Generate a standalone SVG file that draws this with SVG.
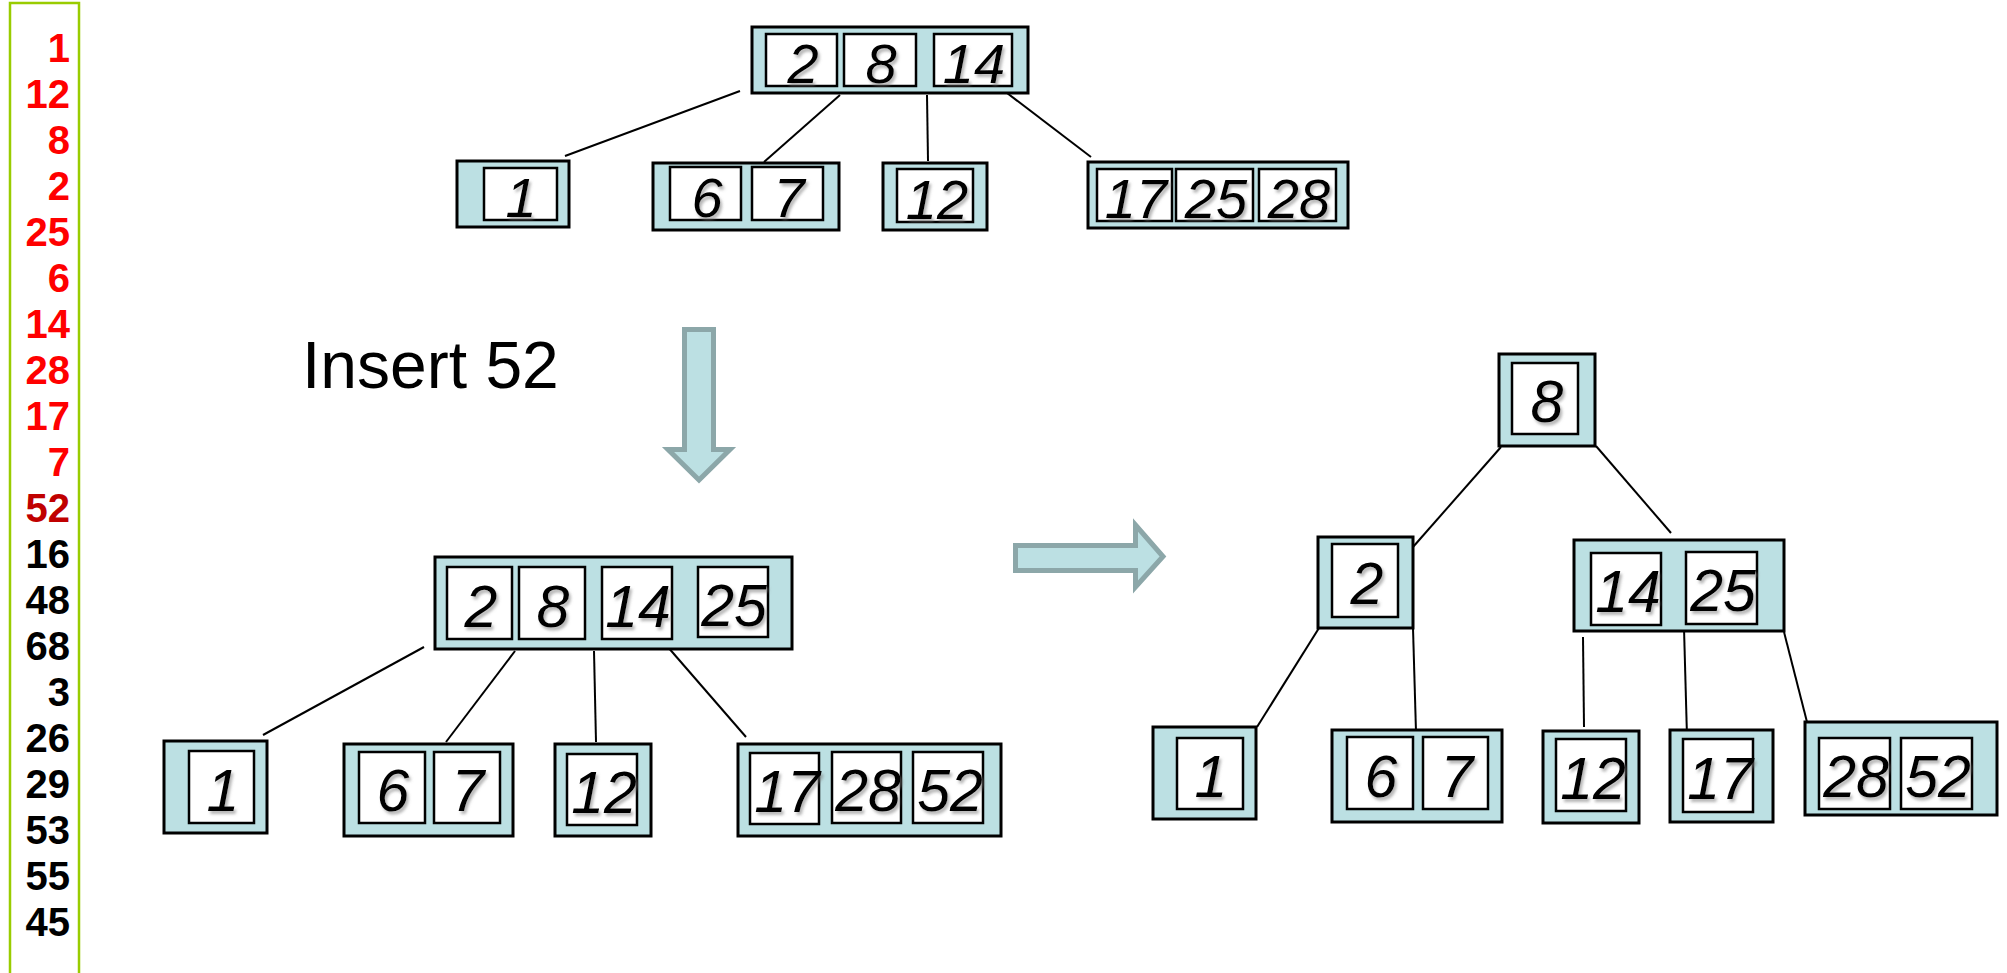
<svg xmlns="http://www.w3.org/2000/svg" width="2007" height="973" viewBox="0 0 2007 973">
<defs>
<filter id="sh" x="-20%" y="-20%" width="150%" height="150%">
<feDropShadow dx="2" dy="3" stdDeviation="1.5" flood-color="#777" flood-opacity="0.55"/>
</filter>
<style>
.o{fill:#bce0e3;stroke:#000;stroke-width:3}
.c{fill:#fff;stroke:#000;stroke-width:2.5}
.d{font-family:"Liberation Sans",Arial,sans-serif;font-style:italic;font-size:59px;fill:#000;text-anchor:middle;filter:url(#sh)}
.ds{font-size:56px}
.ln{stroke:#000;stroke-width:2;fill:none}
.seq{font-family:"Liberation Sans",Arial,sans-serif;font-weight:bold;font-size:40px;text-anchor:end}
.arr{fill:#bce0e3;stroke:#8ca7a9;stroke-width:5;stroke-linejoin:miter}
</style>
</defs>
<rect width="2007" height="973" fill="#fff"/>

<g id="sequence">
<rect x="10" y="3" width="69" height="990" fill="none" stroke="#99cc00" stroke-width="2.5"/>
<g class="seq">
<text x="70" y="62" fill="#ff0000">1</text>
<text x="70" y="108" fill="#ff0000">12</text>
<text x="70" y="154" fill="#ff0000">8</text>
<text x="70" y="200" fill="#ff0000">2</text>
<text x="70" y="246" fill="#ff0000">25</text>
<text x="70" y="292" fill="#ff0000">6</text>
<text x="70" y="338" fill="#ff0000">14</text>
<text x="70" y="384" fill="#ff0000">28</text>
<text x="70" y="430" fill="#ff0000">17</text>
<text x="70" y="476" fill="#ff0000">7</text>
<text x="70" y="522" fill="#c00000">52</text>
<text x="70" y="568" fill="#000">16</text>
<text x="70" y="614" fill="#000">48</text>
<text x="70" y="660" fill="#000">68</text>
<text x="70" y="706" fill="#000">3</text>
<text x="70" y="752" fill="#000">26</text>
<text x="70" y="798" fill="#000">29</text>
<text x="70" y="844" fill="#000">53</text>
<text x="70" y="890" fill="#000">55</text>
<text x="70" y="936" fill="#000">45</text>
</g>
</g>

<g id="label-insert">
<text x="302" y="388" font-family="'Liberation Sans',Arial,sans-serif" font-size="66" fill="#000">Insert 52</text>
</g>

<g id="arrow-down">
<polygon class="arr" points="684.5,329.5 713.5,329.5 713.5,449.5 730,449.5 699,480 668,449.5 684.5,449.5"/>
</g>
<g id="arrow-right">
<polygon class="arr" points="1015.5,545.5 1135.5,545.5 1135.5,525 1163,556.5 1135.5,587 1135.5,570.5 1015.5,570.5"/>
</g>

<g id="connectors">
<line class="ln" x1="740" y1="91" x2="565" y2="156"/>
<line class="ln" x1="840" y1="95" x2="764" y2="162"/>
<line class="ln" x1="927" y1="95" x2="928" y2="161"/>
<line class="ln" x1="1007" y1="93" x2="1091" y2="157"/>

<line class="ln" x1="424" y1="647" x2="263" y2="735"/>
<line class="ln" x1="515" y1="651" x2="446" y2="742"/>
<line class="ln" x1="594" y1="651" x2="596" y2="742"/>
<line class="ln" x1="667" y1="646" x2="746" y2="737"/>

<line class="ln" x1="1501" y1="447" x2="1413" y2="547"/>
<line class="ln" x1="1596" y1="446" x2="1671" y2="533"/>
<line class="ln" x1="1319" y1="628" x2="1257" y2="727"/>
<line class="ln" x1="1413" y1="628" x2="1416" y2="732"/>
<line class="ln" x1="1583" y1="637" x2="1584" y2="727"/>
<line class="ln" x1="1684" y1="628" x2="1687" y2="737"/>
<line class="ln" x1="1784" y1="632" x2="1807" y2="722"/>
</g>

<!-- Top tree -->
<g id="t-root">
<rect class="o" x="752" y="27" width="276" height="66"/>
<rect class="c" x="766" y="34" width="71" height="52"/>
<rect class="c" x="844" y="34" width="72" height="52"/>
<rect class="c" x="934" y="34" width="78" height="52"/>
<text class="d ds" x="803" y="83">2</text>
<text class="d ds" x="881" y="83">8</text>
<text class="d ds" x="974" y="83">14</text>
</g>
<g id="t-1">
<rect class="o" x="457" y="161" width="112" height="66"/>
<rect class="c" x="484" y="168" width="73" height="52"/>
<text class="d ds" x="521" y="217">1</text>
</g>
<g id="t-6-7">
<rect class="o" x="653" y="163" width="186" height="67"/>
<rect class="c" x="670" y="167" width="71" height="53"/>
<rect class="c" x="752" y="167" width="71" height="53"/>
<text class="d ds" x="707" y="217">6</text>
<text class="d ds" x="789" y="217">7</text>
</g>
<g id="t-12">
<rect class="o" x="883" y="163" width="104" height="67"/>
<rect class="c" x="897" y="169" width="76" height="53"/>
<text class="d ds" x="937" y="219">12</text>
</g>
<g id="t-17-25-28">
<rect class="o" x="1088" y="162" width="260" height="66"/>
<rect class="c" x="1097" y="169" width="75" height="52"/>
<rect class="c" x="1176" y="169" width="77" height="52"/>
<rect class="c" x="1259" y="169" width="77" height="52"/>
<text class="d ds" x="1136" y="218">17</text>
<text class="d ds" x="1216" y="218">25</text>
<text class="d ds" x="1299" y="218">28</text>
</g>

<!-- Middle tree -->
<g id="m-root">
<rect class="o" x="435" y="557" width="357" height="92"/>
<rect class="c" x="447" y="567" width="65" height="72"/>
<rect class="c" x="519" y="567" width="66" height="72"/>
<rect class="c" x="602" y="567" width="70" height="72"/>
<rect class="c" x="698" y="567" width="70" height="70"/>
<text class="d" x="481" y="627">2</text>
<text class="d" x="553" y="627">8</text>
<text class="d" x="638" y="627">14</text>
<text class="d" x="734" y="626">25</text>
</g>
<g id="m-1">
<rect class="o" x="164" y="741" width="103" height="92"/>
<rect class="c" x="189" y="751" width="65" height="72"/>
<text class="d" x="223" y="811">1</text>
</g>
<g id="m-6-7">
<rect class="o" x="344" y="744" width="169" height="92"/>
<rect class="c" x="359" y="752" width="66" height="71"/>
<rect class="c" x="434" y="752" width="66" height="71"/>
<text class="d" x="393" y="811">6</text>
<text class="d" x="468" y="811">7</text>
</g>
<g id="m-12">
<rect class="o" x="555" y="744" width="96" height="92"/>
<rect class="c" x="567" y="754" width="70" height="71"/>
<text class="d" x="604" y="813">12</text>
</g>
<g id="m-17-28-52">
<rect class="o" x="738" y="744" width="263" height="92"/>
<rect class="c" x="750" y="753" width="69" height="71"/>
<rect class="c" x="832" y="752" width="69" height="71"/>
<rect class="c" x="913" y="752" width="70" height="71"/>
<text class="d" x="787" y="812">17</text>
<text class="d" x="868" y="811">28</text>
<text class="d" x="950" y="811">52</text>
</g>

<!-- Right tree -->
<g id="r-8">
<rect class="o" x="1499" y="354" width="96" height="92"/>
<rect class="c" x="1512" y="363" width="66" height="71"/>
<text class="d" x="1547" y="422">8</text>
</g>
<g id="r-2">
<rect class="o" x="1318" y="537" width="95" height="91"/>
<rect class="c" x="1332" y="544" width="66" height="73"/>
<text class="d" x="1367" y="604">2</text>
</g>
<g id="r-14-25">
<rect class="o" x="1574" y="540" width="210" height="91"/>
<rect class="c" x="1591" y="553" width="70" height="72"/>
<rect class="c" x="1686" y="552" width="71" height="72"/>
<text class="d" x="1628" y="612">14</text>
<text class="d" x="1723" y="611">25</text>
</g>
<g id="r-1">
<rect class="o" x="1153" y="727" width="103" height="92"/>
<rect class="c" x="1177" y="738" width="66" height="71"/>
<text class="d" x="1211" y="797">1</text>
</g>
<g id="r-6-7">
<rect class="o" x="1332" y="730" width="170" height="92"/>
<rect class="c" x="1347" y="737" width="66" height="72"/>
<rect class="c" x="1423" y="737" width="65" height="72"/>
<text class="d" x="1381" y="797">6</text>
<text class="d" x="1457" y="797">7</text>
</g>
<g id="r-12">
<rect class="o" x="1543" y="731" width="96" height="92"/>
<rect class="c" x="1556" y="739" width="70" height="72"/>
<text class="d" x="1593" y="799">12</text>
</g>
<g id="r-17">
<rect class="o" x="1670" y="730" width="103" height="92"/>
<rect class="c" x="1683" y="739" width="70" height="73"/>
<text class="d" x="1720" y="799">17</text>
</g>
<g id="r-28-52">
<rect class="o" x="1805" y="722" width="192" height="93"/>
<rect class="c" x="1819" y="738" width="71" height="71"/>
<rect class="c" x="1901" y="738" width="71" height="71"/>
<text class="d" x="1856" y="797">28</text>
<text class="d" x="1938" y="797">52</text>
</g>
</svg>
